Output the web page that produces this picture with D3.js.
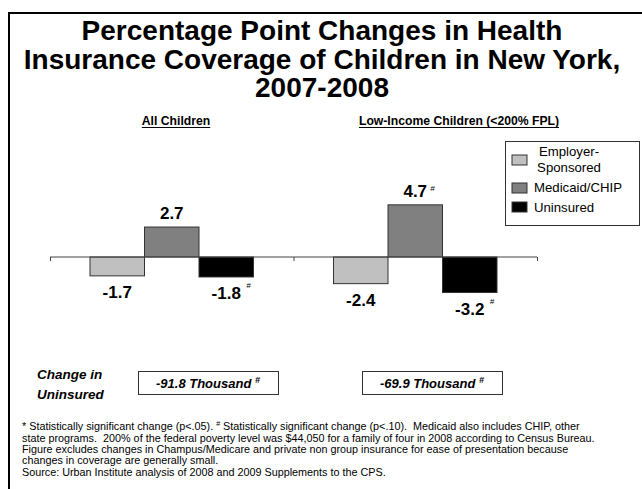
<!DOCTYPE html>
<html>
<head>
<meta charset="utf-8">
<script src="https://cdn.jsdelivr.net/npm/d3@7/dist/d3.min.js"></script>
<style>
  html, body { margin: 0; padding: 0; background: #fff; }
  svg { display: block; font-family: "Liberation Sans", Arial, Helvetica, sans-serif; }
  .pre { white-space: pre; }
</style>
</head>
<body>
<svg id="chart" width="642" height="489"></svg>
<script>
// ---- data ----
const titleLines = [
  "Percentage Point Changes in Health",
  "Insurance Coverage of Children in New York,",
  "2007-2008"
];
const groups = ["All Children", "Low-Income Children (<200% FPL)"];
const series = ["Employer-Sponsored", "Medicaid/CHIP", "Uninsured"];
const allChildren = [-1.7, 2.7, -1.8];
const lowIncome = [-2.4, 4.7, -3.2];
// "#" marks changes significant at p<.10
const allChildrenFlags = ["", "", "#"];
const lowIncomeFlags = ["", "#", "#"];
const uninsuredChange = ["-91.8 Thousand", "-69.9 Thousand"];
// each footnote line is a list of [text, superscript?] runs
const footnotes = [
  [["* Statistically significant change (p<.05). ", false], ["#", true], [" Statistically significant change (p<.10).  Medicaid also includes CHIP, other", false]],
  [["state programs.  200% of the federal poverty level was $44,050 for a family of four in 2008 according to Census Bureau.", false]],
  [["Figure excludes changes in Champus/Medicare and private non group insurance for ease of presentation because", false]],
  [["changes in coverage are generally small.", false]],
  [["Source: Urban Institute analysis of 2008 and 2009 Supplements to the CPS.", false]]
];

const colors = ["#c0c0c0", "#808080", "#000000"];
const values = [allChildren, lowIncome];
const flags = [allChildrenFlags, lowIncomeFlags];

const svg = d3.select("#chart");

// slide frame (left and top edges)
svg.append("path")
  .attr("d", "M9,489 V13 H642")
  .attr("fill", "none").attr("stroke", "#000").attr("stroke-width", 2);

// title
svg.append("g").selectAll("text").data(titleLines).join("text")
  .attr("x", 322)
  .attr("y", (d, i) => 40 + i * 28.5)
  .attr("text-anchor", "middle")
  .attr("font-size", 28).attr("font-weight", "bold")
  .text(d => d);

// scales
const x0 = d3.scaleLinear().domain([0, groups.length]).range([50, 537]);
const groupW = x0(1) - x0(0);
const x1 = d3.scaleBand().domain(series).range([0, groupW]).paddingInner(0).paddingOuter(0.734);
const y = d3.scaleLinear().domain([-5, 5]).range([257 + 55.5, 257 - 55.5]);

// group headings
const headingX = [176, 459];
const heads = svg.append("g").selectAll("text").data(groups).join("text")
  .attr("x", (d, i) => headingX[i]).attr("y", 125)
  .attr("text-anchor", "middle")
  .attr("font-size", 12.2).attr("font-weight", "bold")
  .text(d => d);
heads.each(function() {
  const b = this.getBBox();
  svg.append("line")
    .attr("x1", b.x).attr("x2", b.x + b.width)
    .attr("y1", 127.5).attr("y2", 127.5)
    .attr("stroke", "#000").attr("stroke-width", 1);
});

// bars
const barG = svg.append("g");
groups.forEach((g, gi) => {
  const gg = barG.append("g").attr("transform", `translate(${x0(gi)},0)`);
  gg.selectAll("rect").data(values[gi]).join("rect")
    .attr("x", (d, i) => x1(series[i]))
    .attr("width", x1.bandwidth())
    .attr("y", d => y(Math.max(0, d)))
    .attr("height", d => Math.abs(y(d) - y(0)))
    .attr("fill", (d, i) => colors[i])
    .attr("stroke", "#333").attr("stroke-width", 1);

  // value labels
  gg.selectAll("text.val").data(values[gi]).join("text")
    .attr("class", "val")
    .attr("x", (d, i) => x1(series[i]) + x1.bandwidth() / 2)
    .attr("y", d => d >= 0 ? y(d) - 8 : y(d) + 22)
    .attr("text-anchor", "middle")
    .attr("font-size", 17).attr("font-weight", "bold")
    .text(d => d.toFixed(1));

  // significance marks
  gg.selectAll("text.sig").data(values[gi]).join("text")
    .attr("class", "sig")
    .attr("x", (d, i) => x1(series[i]) + x1.bandwidth() / 2 + (d >= 0 ? 15 : 20))
    .attr("y", d => d >= 0 ? y(d) - 14 : y(d) + 11)
    .attr("font-size", 8).attr("font-style", "italic")
    .text((d, i) => flags[gi][i]);
});

// category axis with boundary ticks
const axis = d3.axisBottom(x0).tickValues(d3.range(groups.length + 1)).tickSize(4).tickFormat("");
const axG = svg.append("g").attr("transform", `translate(0,${y(0)})`).call(axis);
axG.select(".domain").attr("stroke", "#444").attr("d", `M${x0(0)},0H${x0(groups.length)}`);
axG.selectAll(".tick line").attr("stroke", "#444");

// legend
const lg = svg.append("g");
lg.append("rect").attr("x", 505.5).attr("y", 141.5).attr("width", 134).attr("height", 84)
  .attr("fill", "#fff").attr("stroke", "#333");
const swY = [155, 183, 202];
lg.selectAll("rect.sw").data(series).join("rect").attr("class", "sw")
  .attr("x", 512).attr("y", (d, i) => swY[i]).attr("width", 15).attr("height", 10)
  .attr("fill", (d, i) => colors[i]).attr("stroke", "#333");
lg.append("text").attr("x", 569).attr("y", 156).attr("text-anchor", "middle")
  .attr("font-size", 13.2)
  .selectAll("tspan").data(["Employer-", "Sponsored"]).join("tspan")
  .attr("x", 569).attr("dy", (d, i) => i ? 16 : 0).text(d => d);
lg.selectAll("text.lab").data(series.slice(1)).join("text").attr("class", "lab")
  .attr("x", 534).attr("y", (d, i) => [192, 212][i])
  .attr("font-size", 13.2).text(d => d);

// change in uninsured
svg.append("text").attr("x", 37).attr("y", 379)
  .attr("font-size", 13.5).attr("font-weight", "bold").attr("font-style", "italic")
  .selectAll("tspan").data(["Change in", "Uninsured"]).join("tspan")
  .attr("x", 37).attr("dy", (d, i) => i ? 20 : 0).text(d => d);

const boxX = [138, 362];
const boxes = svg.append("g").selectAll("g").data(uninsuredChange).join("g");
boxes.append("rect")
  .attr("x", (d, i) => boxX[i] + 0.5).attr("y", 371.5).attr("width", 140).attr("height", 23)
  .attr("fill", "#fff").attr("stroke", "#333");
const bt = boxes.append("text")
  .attr("x", (d, i) => boxX[i] + 70).attr("y", 388)
  .attr("text-anchor", "middle")
  .attr("font-size", 13).attr("font-weight", "bold").attr("font-style", "italic");
bt.append("tspan").text(d => d + " ");
bt.append("tspan").attr("font-size", 9).attr("dy", -5).text("#");

// footnotes
const fn = svg.append("g").attr("font-size", 10.8);
const fnText = fn.selectAll("text").data(footnotes).join("text")
  .attr("class", "pre")
  .attr("x", 22)
  .attr("y", (d, i) => [430, 441.5, 453, 463.5, 475.5][i]);
fnText.selectAll("tspan").data(d => d).join("tspan")
  .attr("font-size", r => r[1] ? 7 : null)
  .attr("dy", (r, i, nodes) => r[1] ? -4 : (i > 0 && d3.select(nodes[i - 1]).datum()[1] ? 4 : null))
  .text(r => r[0]);
</script>
</body>
</html>
